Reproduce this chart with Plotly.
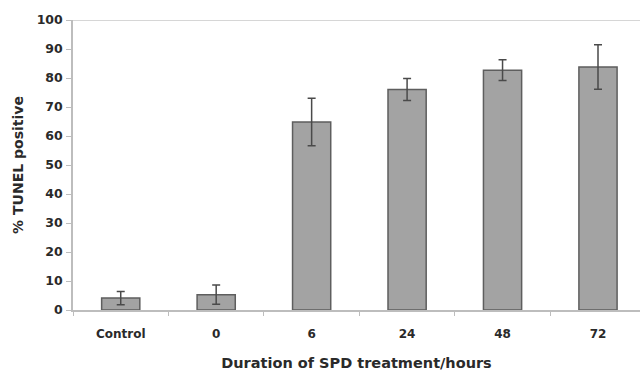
import plotly.graph_objects as go

categories = ["Control", "0", "6", "24", "48", "72"]
values = [4.1, 5.3, 64.8, 76.0, 82.7, 83.8]
errors = [2.3, 3.3, 8.2, 3.8, 3.6, 7.7]
y_ticks = list(range(0, 101, 10))

FONT = "DejaVu Sans, Liberation Sans, Arial, sans-serif"
TXT = "#2a2a2a"

fig = go.Figure()
fig.add_trace(go.Bar(
    x=categories, y=values,
    marker=dict(color="#a3a3a3", line=dict(color="#5e5e5e", width=1.5)),
    error_y=dict(type="data", array=errors, visible=True,
                 color="#4a4a4a", thickness=1.5, width=4),
    width=0.4,
))

fig.add_shape(type="line", xref="paper", yref="y", x0=0, x1=1, y0=100, y1=100,
              line=dict(color="#c8c8c8", width=1.5))

fig.update_layout(
    width=640, height=371,
    margin=dict(l=73, r=0, t=20, b=61),
    paper_bgcolor="white", plot_bgcolor="white",
    showlegend=False,
    font=dict(family=FONT, color=TXT),
    xaxis=dict(
        type="category", range=[-0.5, 5.44], automargin=False,
        showline=True, linecolor="#bdbdbd", linewidth=1.5,
        ticks="outside", tickson="boundaries", ticklen=4, tickcolor="#bdbdbd",
        tickfont=dict(size=12, weight="bold", color=TXT),
        ticklabelstandoff=12,
        showgrid=False,
        title=dict(text="Duration of SPD treatment/hours",
                   font=dict(size=14.5, weight="bold", color=TXT), standoff=22),
    ),
    yaxis=dict(
        range=[0, 100], tickvals=y_ticks, automargin=False,
        showline=True, linecolor="#bdbdbd", linewidth=1.5,
        ticks="outside", ticklen=5, tickcolor="#bdbdbd",
        tickfont=dict(size=12.5, weight="bold", color=TXT),
        ticklabelstandoff=1,
        showgrid=False, zeroline=False,
        title=dict(text="% TUNEL positive",
                   font=dict(size=14, weight="bold", color=TXT), standoff=10),
    ),
)

fig.write_html("out.html", config={"displayModeBar": False},
               post_script="document.body.style.margin='0px';")
